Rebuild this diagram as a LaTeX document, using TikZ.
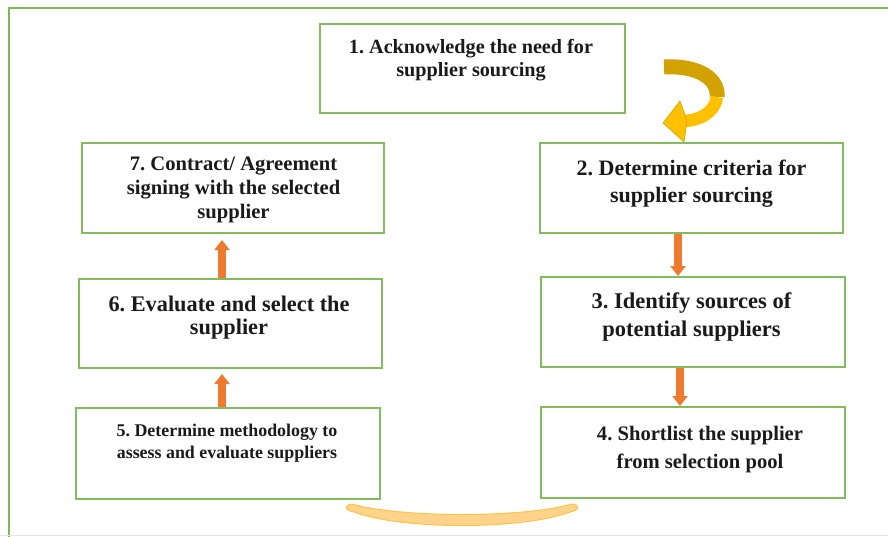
\documentclass[tikz,border=0pt]{standalone}
\usepackage{fontspec}
\setmainfont{Liberation Serif}
\frenchspacing
\usetikzlibrary{arrows.meta}
\definecolor{boxgreen}{HTML}{82BC5E}
\definecolor{framegreen}{HTML}{7DBA55}
\definecolor{arrorange}{HTML}{EE7A30}
\definecolor{golddark}{HTML}{D2A200}
\definecolor{goldlight}{HTML}{FFC000}
\definecolor{crescent}{HTML}{FFD48A}
\definecolor{crescentedge}{HTML}{FFC24A}
\definecolor{txt}{HTML}{1A1A1A}
\newcommand{\steplines}[3]{{\fontsize{#1}{#2}\selectfont\bfseries\setlength{\tabcolsep}{0pt}\begin{tabular}[t]{c}#3\end{tabular}}}
\tikzset{
  stepbox/.style={draw=boxgreen, line width=2pt, minimum width=#1, inner sep=0pt},
  stepbox/.default=304pt,
  steptext/.style={text=txt, inner sep=0pt, anchor=base},
  blockarrow/.style={draw=arrorange, line width=8pt, -{Triangle[width=15pt,length=10pt]}, arrorange},
}
\begin{document}
\begin{tikzpicture}[x=1pt,y=-1pt]
\useasboundingbox (0,0) rectangle (888,536);
\clip (0,0) rectangle (888,536);
% outer frame
\draw[framegreen, line width=2pt] (9,8) rectangle (900,560);
\draw[gray!20, line width=0.8pt] (0,535) -- (888,535);
% boxes
\node[stepbox=305pt, minimum height=89pt] (b1) at (472.5,68.5) {};
\node[stepbox=303pt, minimum height=90pt] (b2) at (691.5,188) {};
\node[stepbox=304pt, minimum height=90pt] (b3) at (693,322) {};
\node[stepbox=304pt, minimum height=91pt] (b4) at (693,452.5) {};
\node[stepbox=304pt, minimum height=91pt] (b5) at (228,453.5) {};
\node[stepbox=303pt, minimum height=89pt] (b6) at (230.5,323.5) {};
\node[stepbox=302pt, minimum height=90pt] (b7) at (233,188) {};
% texts
\node[steptext] (t1) at (471,53) {\steplines{20.2}{23}{1. Acknowledge the need for\\supplier sourcing}};
\node[steptext] (t2) at (691.5,175) {\steplines{22}{27}{2. Determine criteria for\\supplier sourcing}};
\node[steptext] (t3) at (691.5,308) {\steplines{22.5}{28}{3. Identify sources of\\potential suppliers}};
\node[steptext] (t4) at (700,440) {\steplines{20.6}{28}{4. Shortlist the supplier\\from selection pool}};
\node[steptext] (t5) at (227,436) {\steplines{17.9}{22}{5. Determine methodology to\\assess and evaluate suppliers}};
\node[steptext] (t6) at (229,311) {\steplines{22.3}{23}{6. Evaluate and select the\\supplier}};
\node[steptext] (t7) at (233.5,170) {\steplines{20.6}{24}{7. Contract/ Agreement\\signing with the selected\\supplier}};
% straight arrows
\draw[blockarrow] ([xshift=-13.5pt]b2.south) -- ([xshift=-15pt]b3.north);
\draw[blockarrow] ([xshift=-13pt]b3.south) -- ([xshift=-13pt]b4.north);
\draw[blockarrow] ([xshift=-6pt]b5.north) -- ([xshift=-8.5pt,yshift=-5pt]b6.south);
\draw[blockarrow] ([xshift=-8.5pt]b6.north) -- ([xshift=-11pt,yshift=-6pt]b7.south);
% curved U-turn arrow from box 1 to box 2
\coordinate (ua) at (664,67);
\coordinate (ub) at (717,97);
\coordinate (uc) at (682,121);
\draw[golddark, line width=15pt] (ua) .. controls (700,65) and (719,80) .. (ub);
\draw[goldlight, line width=12.5pt] (ub) .. controls (715,112) and (700,121) .. (uc);
\fill[goldlight, draw=golddark, line width=0.6pt] (680,101) -- (663,123) -- (684,142) -- (687,121) -- cycle;
% bottom crescent (from box 5 to box 4)
\coordinate (cl) at (352,504);
\coordinate (cr) at (572,504);
\fill[crescent, draw=crescentedge, line width=1pt]
  (cl) .. controls (400,518) and (524,518) .. (cr)
  .. controls (580,505) and (580,510) .. (570,512)
  .. controls (522,530) and (402,530) .. (354,512)
  .. controls (344,510) and (344,505) .. (cl) -- cycle;
\end{tikzpicture}
\end{document}
